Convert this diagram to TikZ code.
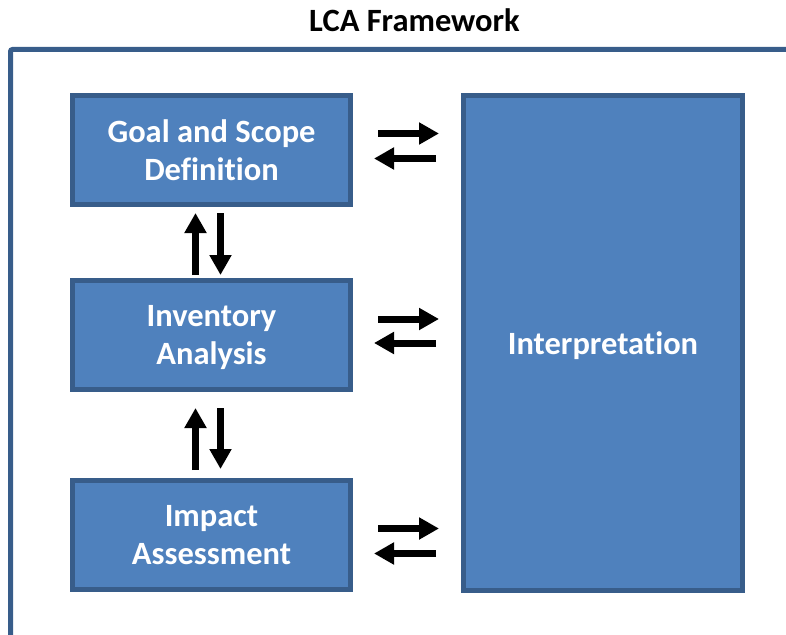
\documentclass[tikz,border=0pt]{standalone}
\usepackage{fontspec}
\setmainfont{Carlito}[Ligatures=NoCommon]
\usetikzlibrary{arrows.meta,positioning,calc}
\definecolor{lcafill}{HTML}{4F81BD}
\definecolor{lcaedge}{HTML}{385D8A}

\begin{document}
\begin{tikzpicture}[x=1pt, y=-1pt,
        stage/.style={rectangle, draw=lcaedge, fill=lcafill, line width=5pt, minimum width=278pt,
        minimum height=109pt, align=center, text=white, text depth=0pt, font=\fontsize{32.5}{38}\selectfont\bfseries},
        arr/.style={line width=7pt, -{Triangle[length=20pt, width=21pt]}}]

        \useasboundingbox (0,0) rectangle (786,634);

        \node[font=\fontsize{32.5}{38}\selectfont\bfseries, anchor=base] (title) at (414.5,31.5) {LCA Framework};
        \draw[lcaedge, line width=5pt, rounded corners=2pt] (10.5,640) -- (10.5,49.5) -- (790,49.5);

        \node[stage] (goal) at (211.5,150) {Goal and Scope\\Definition};
        \node[stage, below=71pt of goal] (inventory) {Inventory\\Analysis};
        \node[stage, below=86pt of inventory] (impact) {Impact\\Assessment};
        \node[stage, minimum width=279pt, minimum height=495pt, right=108pt of goal.north east, anchor=north west] (interp) {Interpretation};

        \draw[arr, shorten <=25pt, shorten >=22pt] ([yshift=16.5pt]goal.east) -- ([yshift=16.5pt]goal.east -| interp.west);
        \draw[arr, shorten <=25pt, shorten >=21pt] ([yshift=-8.5pt]goal.east -| interp.west) -- ([yshift=-8.5pt]goal.east);
        \draw[arr, shorten <=25pt, shorten >=22pt] ([yshift=16pt]inventory.east) -- ([yshift=16pt]inventory.east -| interp.west);
        \draw[arr, shorten <=25pt, shorten >=21pt] ([yshift=-8pt]inventory.east -| interp.west) -- ([yshift=-8pt]inventory.east);
        \draw[arr, shorten <=25pt, shorten >=22pt] ([yshift=6.5pt]impact.east) -- ([yshift=6.5pt]impact.east -| interp.west);
        \draw[arr, shorten <=25pt, shorten >=21pt] ([yshift=-18.5pt]impact.east -| interp.west) -- ([yshift=-18.5pt]impact.east);

        \draw[arr, shorten <=3pt, shorten >=6pt] ([xshift=-16pt]inventory.north) -- ([xshift=-16pt]goal.south);
        \draw[arr, shorten <=6pt, shorten >=3pt] ([xshift=9pt]goal.south) -- ([xshift=9pt]inventory.north);
        \draw[arr, shorten <=8pt, shorten >=16pt] ([xshift=-16pt]impact.north) -- ([xshift=-16pt]inventory.south);
        \draw[arr, shorten <=16pt, shorten >=9pt] ([xshift=9pt]inventory.south) -- ([xshift=9pt]impact.north);

    \end{tikzpicture}
\end{document}
